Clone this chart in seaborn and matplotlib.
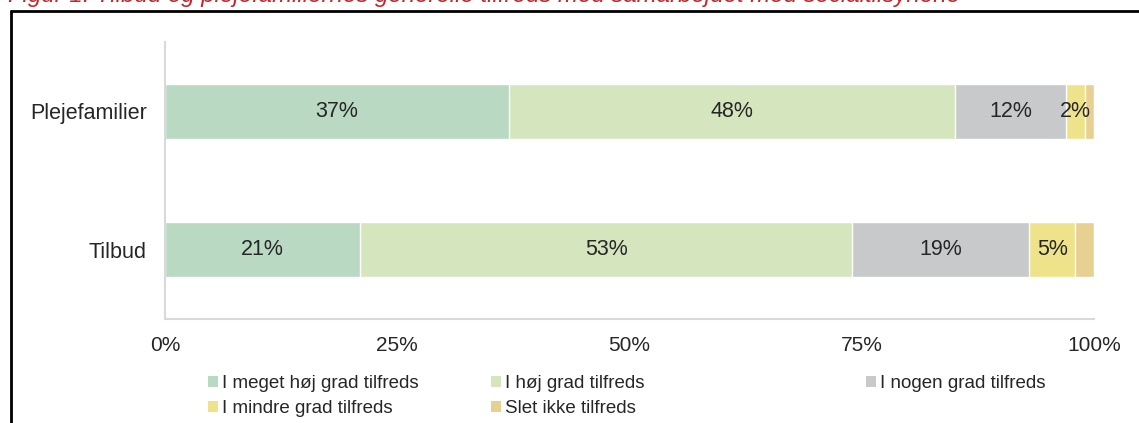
import pandas as pd
import matplotlib.pyplot as plt
import seaborn as sns
from matplotlib.lines import Line2D
from matplotlib.patches import Patch

groups = ["Plejefamilier", "Tilbud"]
categories = ["I meget høj grad tilfreds", "I høj grad tilfreds", "I nogen grad tilfreds",
              "I mindre grad tilfreds", "Slet ikke tilfreds"]
plejefamilier = [37, 48, 12, 2, 1]
tilbud = [21, 53, 19, 5, 2]
colors = ["#B9D9C3", "#D5E6BF", "#C8C9CB", "#EEE38B", "#E7D091"]
xticks = [0, 25, 50, 75, 100]
title = "Figur 1: Tilbud og plejefamiliernes generelle tilfreds med samarbejdet med socialtilsynene"

sns.set_style("white")
plt.rcParams['font.family'] = ['Liberation Sans', 'DejaVu Sans']

rows = []
for g, vals in zip(groups, [plejefamilier, tilbud]):
    cum = 0
    for c, v in zip(categories, vals):
        rows.append({"group": g, "category": c, "value": v, "left": cum, "cum": cum + v})
        cum += v
df = pd.DataFrame(rows)

fig = plt.figure(figsize=(11.39, 4.23), dpi=100)
ax = fig.add_axes([165 / 1139, 1 - 319 / 423, 929 / 1139, 277 / 423])

# stacked bars: draw cumulative totals from the outermost segment inwards
for c, col in reversed(list(zip(categories, colors))):
    sub = df[df["category"] == c]
    sns.barplot(data=sub, x="cum", y="group", order=groups, color=col, width=0.4,
                saturation=1, orient="h", errorbar=None, edgecolor="white",
                linewidth=1, ax=ax)

for _, r in df.iterrows():
    if r["category"] == categories[-1]:
        continue
    ax.text(r["left"] + r["value"] / 2, groups.index(r["group"]), f"{r['value']}%",
            ha="center", va="center", fontsize=15.5, color="#262626")

ax.set_xlim(0, 100)
ax.set_ylim(1.5, -0.5)
ax.set_xticks(xticks)
ax.set_xticklabels([f"{t}%" for t in xticks])
ax.set_xlabel("")
ax.set_ylabel("")
ax.tick_params(axis="both", length=0, labelsize=15, colors="#262626")
ax.tick_params(axis="x", pad=12)
ax.tick_params(axis="y", labelsize=15.5, pad=13)
sns.despine(ax=ax)
for s in ["left", "bottom"]:
    ax.spines[s].set_color("#D9D9D9")
    ax.spines[s].set_linewidth(1.5)

# legend laid out in three fixed columns like the original
handles = {c: Patch(facecolor=col, edgecolor="none") for c, col in zip(categories, colors)}
columns = [([categories[0], categories[3]], 208), ([categories[1], categories[4]], 491),
           ([categories[2]], 866)]
for items, xpx in columns:
    leg = fig.legend([handles[c] for c in items], items, loc="upper left",
                     bbox_to_anchor=(xpx / 1139, 1 - 375 / 423), frameon=False,
                     fontsize=13.5, handlelength=0.55, handleheight=0.55,
                     handletextpad=0.2, labelspacing=0.42, borderpad=0, borderaxespad=0)
    for t in leg.get_texts():
        t.set_color("#262626")

# outer frame (cut-off box) and clipped caption, as in the source screenshot
fig.add_artist(Line2D([11 / 1139, 11 / 1139], [0, 1 - 11 / 423], color="black", lw=2))
fig.add_artist(Line2D([11 / 1139, 1], [1 - 11 / 423, 1 - 11 / 423], color="black", lw=2))
fig.text(8 / 1139, 1 - 2 / 423, title, fontsize=17.3, style="italic", color="#C0282D",
         va="baseline", ha="left")

fig.savefig("out.png", dpi=100)
plt.close(fig)
